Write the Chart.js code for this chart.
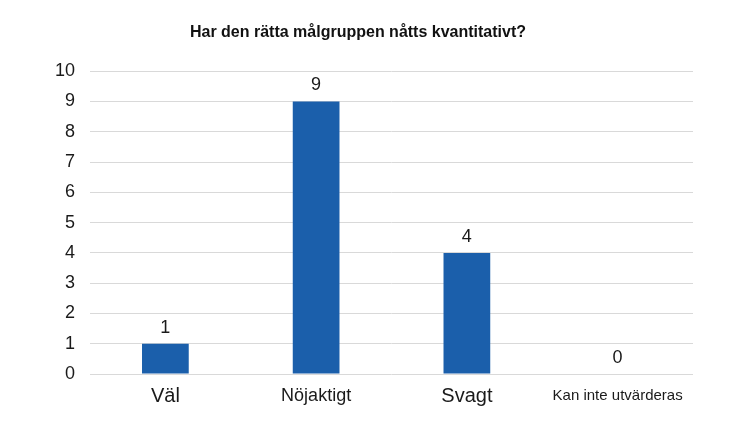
<!DOCTYPE html>
<html>
<head>
<meta charset="utf-8">
<script src="https://cdn.jsdelivr.net/npm/chart.js@4"></script>
<style>
    html, body { margin: 0; padding: 0; background: #ffffff; }
    #wrap { width: 750px; height: 436px; }
</style>
</head>
<body>
<div id="wrap"><canvas id="malgruppChart"></canvas></div>
<script>
// Data
const categories = ['Väl', 'Nöjaktigt', 'Svagt', 'Kan inte utvärderas'];
const values = [1, 9, 4, 0];
const yTicks = [0, 1, 2, 3, 4, 5, 6, 7, 8, 9, 10];
const labelSizes = [20, 18, 20, 15];

// Draw the value above each bar
const valueLabels = {
    id: 'valueLabels',
    afterDatasetsDraw(chart) {
        const ctx = chart.ctx;
        const meta = chart.getDatasetMeta(0);
        ctx.save();
        ctx.fillStyle = '#1a1a1a';
        ctx.font = '18px "Liberation Sans", Arial, sans-serif';
        ctx.textAlign = 'center';
        ctx.textBaseline = 'middle';
        meta.data.forEach((bar, i) => {
            ctx.fillText(String(values[i]), bar.x, bar.y - 16);
        });
        ctx.restore();
    }
};

const ctx = document.getElementById('malgruppChart').getContext('2d');
new Chart(ctx, {
    type: 'bar',
    data: {
        labels: categories,
        datasets: [{
            data: values,
            backgroundColor: '#1b5fab',
            borderWidth: 0,
            barPercentage: 0.31,
            categoryPercentage: 1
        }]
    },
    options: {
        responsive: true,
        maintainAspectRatio: false,
        animation: false,
        layout: {
            padding: { left: 23, right: 57, top: 0, bottom: 18 }
        },
        plugins: {
            legend: { display: false },
            tooltip: { enabled: false },
            title: {
                display: true,
                text: 'Har den rätta målgruppen nåtts kvantitativt?',
                color: '#111111',
                font: { family: '"Liberation Sans", Arial, sans-serif', size: 16, weight: 'bold' },
                padding: { top: 23, bottom: 29 }
            }
        },
        scales: {
            x: {
                grid: { display: false, drawTicks: false },
                border: { display: false },
                ticks: {
                    color: '#1a1a1a',
                    padding: 10,
                    maxRotation: 0,
                    autoSkip: false,
                    font: (c) => ({
                        family: '"Liberation Sans", Arial, sans-serif',
                        size: labelSizes[c.index] || 16,
                        lineHeight: 24 / (labelSizes[c.index] || 16)
                    })
                }
            },
            y: {
                min: 0,
                max: 10,
                afterBuildTicks: (axis) => {
                    axis.ticks = yTicks.map(v => ({ value: v }));
                },
                afterFit: (axis) => {
                    axis.width = 67;
                },
                grid: { color: '#d9d9d9', lineWidth: 1, drawTicks: false },
                border: { display: false },
                ticks: {
                    color: '#1a1a1a',
                    padding: 15,
                    font: { family: '"Liberation Sans", Arial, sans-serif', size: 18 }
                }
            }
        }
    },
    plugins: [valueLabels]
});
</script>
</body>
</html>
